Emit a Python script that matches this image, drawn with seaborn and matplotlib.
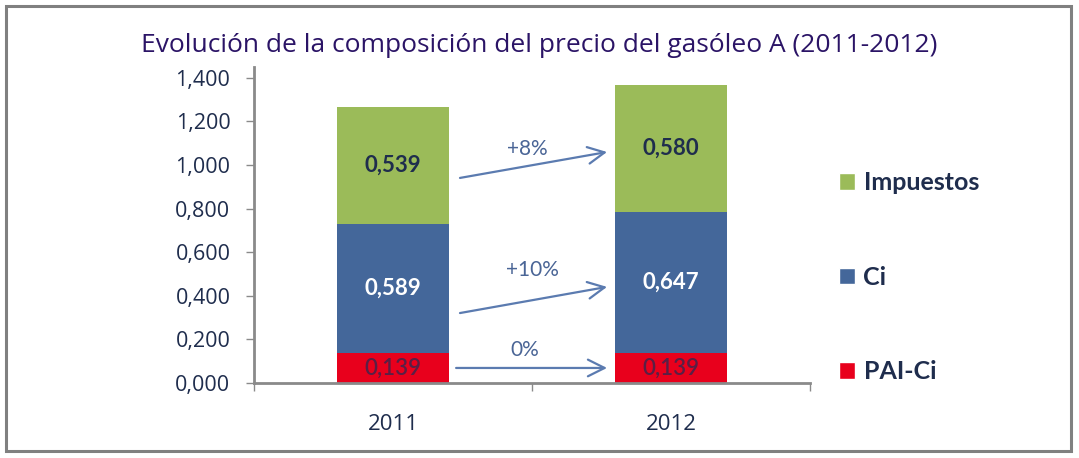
import matplotlib
matplotlib.use("Agg")
import matplotlib.pyplot as plt
from matplotlib.patches import Patch, Rectangle
from matplotlib.ticker import FixedLocator, FuncFormatter
import seaborn as sns
import pandas as pd
import numpy as np

# ---- data ----
years = ["2011", "2012"]
pai_ci = [0.139, 0.139]
ci = [0.589, 0.647]
impuestos = [0.539, 0.580]
series_names = ["Impuestos", "Ci", "PAI-Ci"]
changes = ["+8%", "+10%", "0%"]
yticks = [0.0, 0.2, 0.4, 0.6, 0.8, 1.0, 1.2, 1.4]
title = "Evolución de la composición del precio del gasóleo A (2011-2012)"

c_green = "#9bbb59"
c_blue = "#44679a"
c_red = "#e8001c"
navy = "#1f2d4d"
arrow_c = "#5b7bb0"

sns.set_theme(style="white")
plt.rcParams["font.family"] = ["Open Sans", "DejaVu Sans"]

fig = plt.figure(figsize=(10.79, 4.58), dpi=100)
ax = fig.add_axes([254/1079, 1-383/458, (810-254)/1079, (383-67)/458])

df = pd.DataFrame({"year": years, "pai": pai_ci, "ci": ci, "imp": impuestos})
df["top_ci"] = df["pai"] + df["ci"]
df["total"] = df["top_ci"] + df["imp"]

w = 0.4
sns.barplot(data=df, x="year", y="total", color=c_green, width=w, saturation=1, ax=ax, linewidth=0)
sns.barplot(data=df, x="year", y="top_ci", color=c_blue, width=w, saturation=1, ax=ax, linewidth=0)
sns.barplot(data=df, x="year", y="pai", color=c_red, width=w, saturation=1, ax=ax, linewidth=0)

fmt = lambda v: f"{v:.3f}".replace(".", ",")
lab_font = ["Lato", "DejaVu Sans"]
for i in range(len(years)):
    ax.text(i, pai_ci[i] / 2, fmt(pai_ci[i]), ha="center", va="center",
            fontsize=16, color="#5a1f45", fontweight="semibold", family=lab_font)
    ax.text(i, pai_ci[i] + ci[i] / 2, fmt(ci[i]), ha="center", va="center",
            fontsize=16, color="white", fontweight="bold", family=lab_font)
    ax.text(i, pai_ci[i] + ci[i] + impuestos[i] / 2, fmt(impuestos[i]), ha="center",
            va="center", fontsize=16, color=navy, fontweight="bold", family=lab_font)

# change arrows
arrows = [((0.241, 0.941), (0.770, 1.060), (0.482, 1.074)),
          ((0.241, 0.321), (0.770, 0.441), (0.500, 0.519)),
          ((0.227, 0.069), (0.770, 0.069), (0.475, 0.151))]
for (start, end, lab), txt in zip(arrows, changes):
    ax.annotate("", xy=end, xytext=start,
                arrowprops=dict(arrowstyle="->,head_length=1.0,head_width=0.5",
                                color=arrow_c, lw=1.6, shrinkA=0, shrinkB=0))
    ax.text(lab[0], lab[1], txt, ha="center", va="center", fontsize=15,
            color="#4a6596", family=lab_font)

# axes styling
ax.set_xlim(-0.5, 1.5)
ax.set_ylim(0, 1.45)
ax.set_xlabel("")
ax.set_ylabel("")
for s in ["top", "right"]:
    ax.spines[s].set_visible(False)
for s in ["left", "bottom"]:
    ax.spines[s].set_color("#8a8a8a")
    ax.spines[s].set_linewidth(2)
ax.yaxis.set_major_locator(FixedLocator(yticks))
ax.yaxis.set_major_formatter(FuncFormatter(lambda v, p: fmt(v)))
ax.tick_params(axis="y", which="major", direction="out", length=6, width=1,
               color="#8a8a8a", left=True, labelsize=15.5, labelcolor=navy, pad=11)
ax.set_xticks([0, 1])
ax.set_xticklabels(years)
ax.tick_params(axis="x", which="major", length=0, labelsize=16, labelcolor=navy, pad=22)
ax.set_xticks([-0.5, 0.5, 1.5], minor=True)
ax.tick_params(axis="x", which="minor", direction="out", length=6, width=1,
               color="#8a8a8a", bottom=True)

# legend
handles = [Patch(facecolor=c) for c in [c_green, c_blue, c_red]]
leg = fig.legend(handles, series_names, loc="upper left",
                 bbox_to_anchor=(816/1079, 1-149/458), frameon=False,
                 prop=dict(family=lab_font, weight="bold", size=18),
                 handlelength=0.65, handleheight=0.65, handletextpad=0.35,
                 labelspacing=2.85)
for t in leg.get_texts():
    t.set_color(navy)

fig.text(0.4995, 1-45/458, title, ha="center", va="center", fontsize=19,
         fontweight="medium", color="#2b1466")

fig.patches.append(Rectangle((6/1079, 1-451/458), 1065/1079, 445/458,
                             transform=fig.transFigure, fill=False,
                             edgecolor="#808080", linewidth=2.2))

fig.savefig("out.png", dpi=100)
